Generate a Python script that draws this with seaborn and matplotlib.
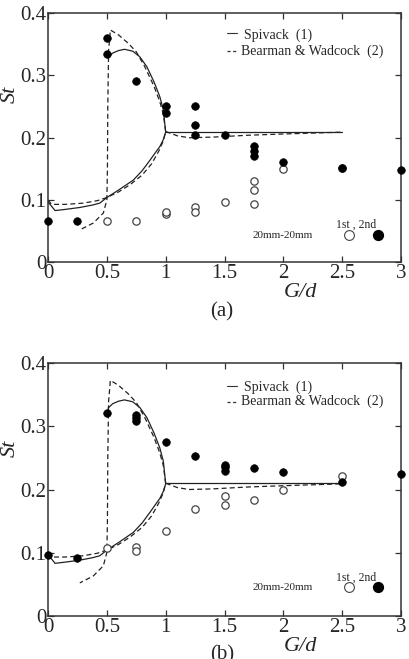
import numpy as np
import pandas as pd
import matplotlib
matplotlib.use('Agg')
import matplotlib.pyplot as plt
import seaborn as sns

# measured points, panel (a)
gd_a_fill = [0, 0.25, 0.5, 0.5, 0.75, 1, 1, 1.25, 1.25, 1.25, 1.5, 1.75, 1.75, 1.75, 2, 2.5, 3]
st_a_fill = [0.066, 0.066, 0.36, 0.335, 0.291, 0.251, 0.239, 0.251, 0.22, 0.204, 0.204,
             0.186, 0.178, 0.171, 0.161, 0.152, 0.148]
gd_a_open = [0.5, 0.75, 1, 1, 1.25, 1.25, 1.5, 1.75, 1.75, 1.75, 2, 2.5]
st_a_open = [0.066, 0.066, 0.077, 0.080, 0.088, 0.080, 0.097, 0.131, 0.116, 0.094, 0.149, 0.151]

# measured points, panel (b)
gd_b_fill = [0, 0.25, 0.5, 0.75, 0.75, 0.75, 1, 1.25, 1.5, 1.5, 1.5, 1.75, 2, 2.5, 3]
st_b_fill = [0.096, 0.092, 0.322, 0.318, 0.313, 0.309, 0.275, 0.253, 0.239, 0.235, 0.230,
             0.234, 0.228, 0.212, 0.225]
gd_b_open = [0.5, 0.75, 0.75, 1, 1.25, 1.5, 1.5, 1.75, 2, 2.5]
st_b_open = [0.108, 0.109, 0.103, 0.135, 0.169, 0.189, 0.175, 0.184, 0.200, 0.222]

# Spivack (1) curve
spivack_gd = [0, 0.06, 0.15, 0.27, 0.38, 0.44, 0.5, 0.6, 0.725, 0.8, 0.867, 0.92, 0.951, 0.98, 1.0,
              0.98, 0.95, 0.9, 0.84, 0.78, 0.72, 0.65, 0.6, 0.55, 0.51]
spivack_st = [0.097, 0.083, 0.085, 0.088, 0.092, 0.095, 0.104, 0.116, 0.132, 0.147, 0.164, 0.178, 0.186,
              0.197, 0.209, 0.245, 0.266, 0.29, 0.314, 0.33, 0.339, 0.342, 0.34, 0.336, 0.329]
spivack_tail_gd = [1.0, 2.5]
spivack_tail_st = [0.21, 0.21]

# Bearman & Wadcock (2) curve
bw_gd = [0, 0.03, 0.15, 0.3, 0.42, 0.5, 0.6, 0.7, 0.8, 0.88, 0.94, 0.98, 1.0,
         0.98, 0.95, 0.9, 0.82, 0.75, 0.68, 0.6, 0.53, 0.515, 0.508, 0.505, 0.5, 0.47, 0.385, 0.27]
bw_st = [0.1, 0.093, 0.093, 0.095, 0.099, 0.104, 0.113, 0.125, 0.14, 0.158, 0.178, 0.195, 0.21,
         0.238, 0.258, 0.283, 0.315, 0.338, 0.352, 0.365, 0.373, 0.34, 0.25, 0.15, 0.1, 0.079, 0.063, 0.052]
bw_tail_gd = [1.0, 1.1, 1.2, 1.4, 1.7, 2.0, 2.5]
bw_tail_st = [0.21, 0.203, 0.2, 0.201, 0.204, 0.206, 0.209]

xticks = [0, 0.5, 1, 1.5, 2, 2.5, 3]
xticklabels = ['0', '0.5', '1', '1.5', '2', '2.5', '3']
yticks = [0, 0.1, 0.2, 0.3, 0.4]
yticklabels = ['0', '0.1', '0.2', '0.3', '0.4']

sns.set_style('ticks')
plt.rcParams['font.family'] = ['Liberation Serif', 'DejaVu Serif']

fig = plt.figure(figsize=(4.09, 6.59), dpi=100)
ax_a = fig.add_axes([0.1174, 0.602, 0.863, 0.378])
ax_b = fig.add_axes([0.1174, 0.0657, 0.863, 0.383])

panels = [
    (ax_a, gd_a_fill, st_a_fill, gd_a_open, st_a_open, '(a)', 0.913, 0.847, 0.108, 0.150, 0.676, -0.20),
    (ax_b, gd_b_fill, st_b_fill, gd_b_open, st_b_open, '(b)', 0.905, 0.848, 0.112, 0.149, 0.664, -0.155),
]

dash = (0, (4, 2.5))
for ax, gf, sf, go, so, tag, ly1, ly2, my, ty, sty, tagy in panels:
    sns.lineplot(x=spivack_gd, y=spivack_st, sort=False, estimator=None, color='#222222',
                 lw=0.9, ax=ax)
    sns.lineplot(x=spivack_tail_gd, y=spivack_tail_st, sort=False, estimator=None,
                 color='#222222', lw=0.9, ax=ax)
    sns.lineplot(x=bw_gd, y=bw_st, sort=False, estimator=None, color='#222222', lw=0.9,
                 linestyle=dash, ax=ax)
    sns.lineplot(x=bw_tail_gd, y=bw_tail_st, sort=False, estimator=None, color='#222222',
                 lw=0.9, linestyle=dash, ax=ax)
    sns.scatterplot(x=go, y=so, s=28, facecolor='white', edgecolor='#444444', linewidth=0.9,
                    ax=ax, zorder=3, clip_on=False)
    sns.scatterplot(x=gf, y=sf, s=30, color='black', edgecolor='black', linewidth=0.5,
                    ax=ax, zorder=4, clip_on=False)

    ax.set_xlim(0, 3)
    ax.set_ylim(0, 0.4)
    ax.set_xticks(xticks)
    ax.set_xticklabels(xticklabels)
    ax.set_yticks(yticks)
    ax.set_yticklabels(yticklabels)
    ax.tick_params(direction='in', top=True, right=True, length=4.5, width=0.9,
                   labelsize=15, pad=1.5, color='#333333')
    ax.tick_params(axis='y', pad=1)
    for sp in ax.spines.values():
        sp.set_visible(True)
        sp.set_linewidth(1.1)
        sp.set_color('#333333')
    ax.set_xlabel('')
    ax.set_ylabel('')

    # axis labels
    ax.text(0.714, -0.122, 'G/d', transform=ax.transAxes, fontsize=16, style='italic',
            ha='center', va='center')
    ax.text(-0.108, sty, 'St', transform=ax.transAxes, fontsize=16, style='italic',
            rotation=90, ha='center', va='center')
    ax.text(0.493, tagy, tag, transform=ax.transAxes, fontsize=15, ha='center', va='center')

    # key
    ax.plot([0.507, 0.535], [ly1 + 0.006, ly1 + 0.006], color='#333333', lw=0.8,
            transform=ax.transAxes)
    ax.plot([0.507, 0.535], [ly2, ly2], color='#333333', lw=0.9, linestyle=(0, (2.5, 2)),
            transform=ax.transAxes)
    ax.text(0.556, ly1, 'Spivack  (1)', transform=ax.transAxes, fontsize=10,
            ha='left', va='center')
    ax.text(0.547, ly2, 'Bearman & Wadcock  (2)', transform=ax.transAxes, fontsize=10,
            ha='left', va='center')
    ax.text(0.664, my, '20mm-20mm', transform=ax.transAxes, fontsize=8,
            ha='center', va='center')
    ax.text(0.874, ty, '1st , 2nd', transform=ax.transAxes, fontsize=8.5,
            ha='center', va='center')
    ax.scatter([0.853], [my], s=50, facecolor='white', edgecolor='#444444', linewidth=0.8,
               transform=ax.transAxes, clip_on=False)
    ax.scatter([0.935], [my], s=50, color='black', transform=ax.transAxes, clip_on=False)

fig.savefig('out.png', dpi=100)
